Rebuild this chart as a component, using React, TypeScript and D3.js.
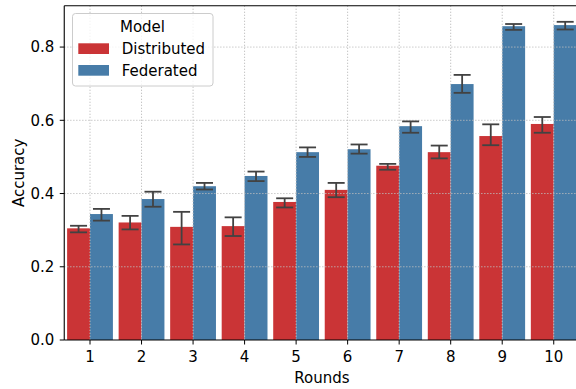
import React from "react";
import * as d3 from "d3";

const rounds = ["1", "2", "3", "4", "5", "6", "7", "8", "9", "10"];
const models = ["Distributed", "Federated"];

const distributedMean = [0.305, 0.321, 0.309, 0.311, 0.377, 0.41, 0.476, 0.513, 0.557, 0.59];
const distributedLow = [0.294, 0.302, 0.261, 0.284, 0.362, 0.39, 0.465, 0.496, 0.532, 0.566];
const distributedHigh = [0.312, 0.339, 0.35, 0.335, 0.387, 0.429, 0.481, 0.531, 0.589, 0.609];

const federatedMean = [0.344, 0.385, 0.42, 0.448, 0.513, 0.521, 0.584, 0.699, 0.857, 0.86];
const federatedLow = [0.326, 0.364, 0.411, 0.434, 0.5, 0.509, 0.566, 0.675, 0.847, 0.848];
const federatedHigh = [0.358, 0.405, 0.429, 0.46, 0.526, 0.534, 0.597, 0.724, 0.863, 0.869];

const yTicks = [0.0, 0.2, 0.4, 0.6, 0.8];
const colors = ["#ca3436", "#477ca8"];

const W = 576;
const H = 389;
const FONT = "DejaVu Sans, sans-serif";
const FS = 15;

export default function App() {
  const left = 64.25;
  const right = 579.5;
  const top = 5.7;
  const bottom = 340;

  const x = d3.scaleBand<string>().domain(rounds).range([left, right]).paddingInner(0).paddingOuter(0);
  const inner = d3.scaleBand<string>().domain(models).range([0, x.bandwidth()]).paddingInner(0).paddingOuter(0.125);
  const y = d3.scaleLinear().domain([0, 0.913]).range([bottom, top]);

  const series = [
    { name: models[0], mean: distributedMean, lo: distributedLow, hi: distributedHigh, color: colors[0] },
    { name: models[1], mean: federatedMean, lo: federatedLow, hi: federatedHigh, color: colors[1] },
  ];

  const capHalf = 8.5;
  const center = (r: string) => (x(r) as number) + x.bandwidth() / 2;

  return (
    <svg width={W} height={H} style={{ position: "absolute", left: 0, top: 0, background: "#fff" }} fontFamily={FONT}>
      {/* bars */}
      {series.map((s) =>
        rounds.map((r, i) => (
          <rect
            key={s.name + r}
            x={(x(r) as number) + (inner(s.name) as number)}
            y={y(s.mean[i])}
            width={inner.bandwidth()}
            height={y(0) - y(s.mean[i])}
            fill={s.color}
          />
        ))
      )}

      {/* grid */}
      <g stroke="#bdbdbd" strokeWidth={1} strokeDasharray="1.2,1.8">
        {yTicks.slice(1).map((t) => (
          <line key={"gy" + t} x1={left} x2={right} y1={y(t)} y2={y(t)} />
        ))}
        {rounds.map((r) => (
          <line key={"gx" + r} x1={center(r)} x2={center(r)} y1={top} y2={bottom} />
        ))}
      </g>

      {/* error bars */}
      <g stroke="#424242" strokeWidth={1.8}>
        {series.map((s) =>
          rounds.map((r, i) => {
            const cx = (x(r) as number) + (inner(s.name) as number) + inner.bandwidth() / 2;
            return (
              <g key={"e" + s.name + r}>
                <line x1={cx} x2={cx} y1={y(s.lo[i])} y2={y(s.hi[i])} />
                <line x1={cx - capHalf} x2={cx + capHalf} y1={y(s.lo[i])} y2={y(s.lo[i])} />
                <line x1={cx - capHalf} x2={cx + capHalf} y1={y(s.hi[i])} y2={y(s.hi[i])} />
              </g>
            );
          })
        )}
      </g>

      {/* spines */}
      <g stroke="#000" strokeWidth={1.1} fill="none">
        <line x1={left} x2={left} y1={top} y2={bottom} />
        <line x1={left} x2={right} y1={top} y2={top} />
        <line x1={left} x2={right} y1={bottom} y2={bottom} />
        <line x1={right} x2={right} y1={top} y2={bottom} />
      </g>

      {/* y axis */}
      {yTicks.map((t) => (
        <g key={"yt" + t}>
          <line x1={left - 4.5} x2={left} y1={y(t)} y2={y(t)} stroke="#000" strokeWidth={1} />
          <text x={left - 10} y={y(t)} dy="0.36em" textAnchor="end" fontSize={FS} fill="#000">
            {t.toFixed(1)}
          </text>
        </g>
      ))}

      {/* x axis */}
      {rounds.map((r) => (
        <g key={"xt" + r}>
          <line x1={center(r)} x2={center(r)} y1={bottom} y2={bottom + 4.5} stroke="#000" strokeWidth={1} />
          <text x={center(r)} y={362} textAnchor="middle" fontSize={FS} fill="#000">
            {r}
          </text>
        </g>
      ))}

      <text x={(left + right) / 2} y={383} textAnchor="middle" fontSize={FS} fill="#000">
        Rounds
      </text>
      <text
        transform={`translate(${23.5},${(top + bottom) / 2}) rotate(-90)`}
        textAnchor="middle"
        fontSize={FS}
        fill="#000"
      >
        Accuracy
      </text>

      {/* legend */}
      <g>
        <rect x={72.5} y={13.5} width={140.5} height={72.5} rx={3} fill="#fff" fillOpacity={0.8} stroke="#cccccc" strokeWidth={1} />
        <text x={142.5} y={31.5} textAnchor="middle" fontSize={FS} fill="#000">
          Model
        </text>
        {series.map((s, i) => (
          <g key={"lg" + s.name}>
            <rect x={78.3} y={43.3 + i * 21.7} width={30.7} height={10.7} fill={s.color} />
            <text x={121.7} y={54 + i * 22} fontSize={FS} fill="#000">
              {s.name}
            </text>
          </g>
        ))}
      </g>
    </svg>
  );
}
